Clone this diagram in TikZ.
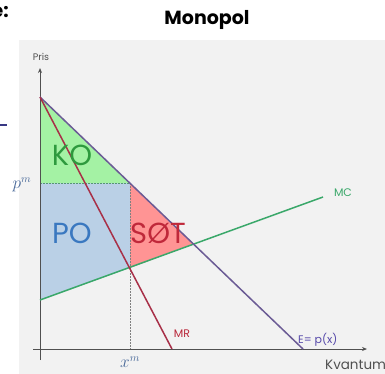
\documentclass[tikz,border=0pt]{standalone}
\usepackage{fontspec}
\setmainfont{Poppins}
\usetikzlibrary{arrows.meta}
\definecolor{panel}{HTML}{F2F2F2}
\definecolor{kofill}{HTML}{A4F2A4}
\definecolor{pofill}{HTML}{BAD0E6}
\definecolor{sotfill}{HTML}{FF9494}
\definecolor{kotext}{HTML}{2E9A3E}
\definecolor{potext}{HTML}{3A78C0}
\definecolor{sottext}{HTML}{C0283A}
\definecolor{mccol}{HTML}{3AA86A}
\definecolor{mrcol}{HTML}{A83048}
\definecolor{dcol}{HTML}{6B5B95}
\definecolor{axcol}{HTML}{505050}
\definecolor{mathcol}{HTML}{4A6A9A}
\tikzset{
  axis/.style={draw=axcol, line width=0.9pt},
  curve/.style={line width=1.5pt},
  guide/.style={draw=gray, line width=0.7pt, dash pattern=on 1.5pt off 1.5pt},
  big/.style={font=\fontsize{29}{30}\selectfont, inner sep=0pt},
  small/.style={font=\fontsize{11}{12}\selectfont, inner sep=0pt},
}
\begin{document}
\begin{tikzpicture}[x=1pt,y=-1pt]
\useasboundingbox (0,0) rectangle (385,373);
\fill[white] (0,0) rectangle (385,373);
\fill[panel] (19,40) rectangle (386,374);
% key points
\coordinate (A) at (40,97);
\coordinate (D) at (303,349);
\coordinate (M) at (172,349);
\coordinate (P) at (130,183);
\coordinate (Pa) at (40,183);
\coordinate (Q) at (130,268);
\coordinate (C0) at (40,300);
\coordinate (C1) at (323,197);
\coordinate (S) at (194,244);
\coordinate (Xm) at (130,349);
\coordinate (Ytop) at (40,68);
\coordinate (Ybot) at (40,360);
\coordinate (Xl) at (33,349);
\coordinate (Xr) at (367,349);
% areas
\fill[kofill] (A) -- (Pa) -- (P) -- cycle;
\fill[pofill] (Pa) -- (P) -- (Q) -- (C0) -- cycle;
\fill[sotfill] (P) -- (Q) -- (S) -- cycle;
% guides
\draw[guide, draw=mccol!60!gray] (Pa) -- (P);
\draw[guide] (P) -- (Xm);
% axes
\draw[axis, -{Stealth[length=5pt,width=4pt]}] (Ybot) -- (Ytop);
\draw[axis, -{Stealth[length=5pt,width=4pt]}] (Xl) -- (Xr);
% curves
\draw[curve, draw=mccol] (C0) -- (C1);
\draw[curve, draw=dcol] (A) -- (D);
\draw[curve, draw=mrcol] (A) -- (M);
% labels
\node[font=\bfseries\fontsize{19}{20}\selectfont, anchor=east, inner sep=0pt] (e) at (9,12) {e:};
\draw[draw=axcol!70!blue, line width=1.2pt] (0,125) coordinate (d0) -- (7,125) coordinate (d1);
\node[font=\bfseries\fontsize{19}{20}\selectfont] (title) at (207,20) {Monopol};
\node[small, font=\fontsize{9.5}{10}\selectfont, text=axcol] (pris) at (41,57) {Pris};
\node[small, font=\fontsize{13.5}{14}\selectfont, anchor=west, text=axcol] (kv) at (325,365) {Kvantum};
\node[big, text=kotext] (ko) at (72,155) {KO};
\node[big, text=potext] (po) at (72,233) {PO};
\node[big, text=sottext] (sot) at (158,233) {SØT};
\node[small, text=mccol] (mc) at (343,193) {MC};
\node[small, text=mrcol!80!red] (mr) at (182,334) {MR};
\node[small, text=dcol!80!blue, anchor=west] (e2) at (298,340) {E= p(x)};
\node[inner sep=0pt, text=mathcol, font=\fontsize{16}{16}\selectfont] (pm) at (22,185) {$p^m$};
\node[inner sep=0pt, text=mathcol, font=\fontsize{16}{16}\selectfont] (xm) at (130,362) {$x^m$};
\end{tikzpicture}
\end{document}
